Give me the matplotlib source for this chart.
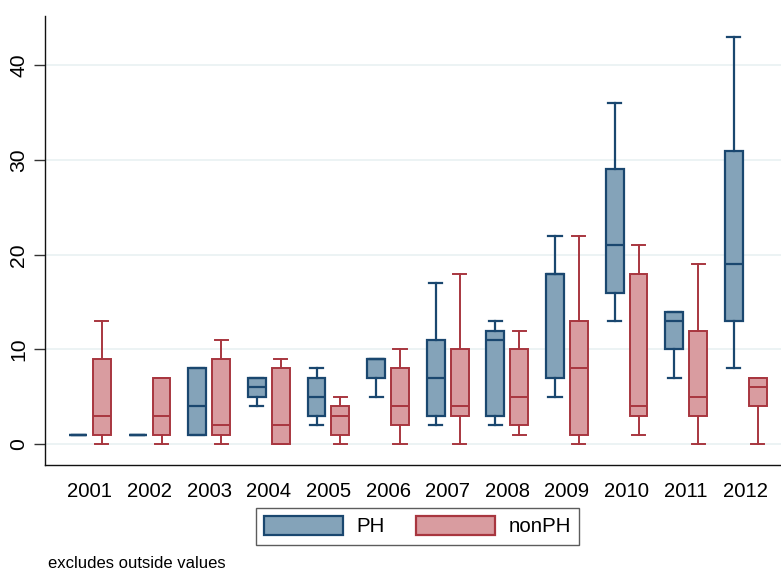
import matplotlib
matplotlib.use("Agg")
import matplotlib.pyplot as plt
from matplotlib.patches import Patch

years = ["2001", "2002", "2003", "2004", "2005", "2006",
         "2007", "2008", "2009", "2010", "2011", "2012"]

# PH group: lower adjacent, q1, median, q3, upper adjacent
ph_lo  = [1, 1, 1, 4, 2, 5, 2, 2, 5, 13, 7, 8]
ph_q1  = [1, 1, 1, 5, 3, 7, 3, 3, 7, 16, 10, 13]
ph_med = [1, 1, 4, 6, 5, 9, 7, 11, 18, 21, 13, 19]
ph_q3  = [1, 1, 8, 7, 7, 9, 11, 12, 18, 29, 14, 31]
ph_hi  = [1, 1, 8, 7, 8, 9, 17, 13, 22, 36, 14, 43]

# nonPH group
np_lo  = [0, 0, 0, 0, 0, 0, 0, 1, 0, 1, 0, 0]
np_q1  = [1, 1, 1, 0, 1, 2, 3, 2, 1, 3, 3, 4]
np_med = [3, 3, 2, 2, 3, 4, 4, 5, 8, 4, 5, 6]
np_q3  = [9, 7, 9, 8, 4, 8, 10, 10, 13, 18, 12, 7]
np_hi  = [13, 7, 11, 9, 5, 10, 18, 12, 22, 21, 19, 7]

yticks = [0, 10, 20, 30, 40]

PH_FILL, PH_EDGE = "#84A3B9", "#1A476F"
NP_FILL, NP_EDGE = "#D99CA0", "#A8363F"

FONT = "Liberation Sans"
plt.rcParams["font.family"] = [FONT, "DejaVu Sans"]

fig = plt.figure(figsize=(7.81, 5.71), dpi=100)
ax = fig.add_axes([0.0576, 0.1856, 0.9424, 0.7864])


def stats(lo, q1, med, q3, hi):
    return [dict(whislo=a, q1=b, med=c, q3=d, whishi=e, fliers=[])
            for a, b, c, d, e in zip(lo, q1, med, q3, hi)]


def draw(st, offset, fill, edge, lw):
    pos = [i + offset for i in range(len(st))]
    ax.bxp(st, positions=pos, widths=0.3, patch_artist=True,
           showfliers=False, capwidths=0.22,
           boxprops=dict(facecolor=fill, edgecolor=edge, linewidth=lw),
           medianprops=dict(color=edge, linewidth=lw),
           whiskerprops=dict(color=edge, linewidth=lw),
           capprops=dict(color=edge, linewidth=lw),
           zorder=3)


for y in yticks:
    ax.axhline(y, color="#EAF2F3", linewidth=1.3, zorder=1)

draw(stats(ph_lo, ph_q1, ph_med, ph_q3, ph_hi), -0.2, PH_FILL, PH_EDGE, 1.6)
draw(stats(np_lo, np_q1, np_med, np_q3, np_hi), 0.2, NP_FILL, NP_EDGE, 1.4)

ax.set_xlim(-0.755, 11.59)
ax.set_ylim(-2.2, 45.2)
ax.set_xticks(range(len(years)))
ax.set_xticklabels(years, fontsize=14.6)
ax.tick_params(axis="x", length=0, pad=12)
ax.set_yticks(yticks)
ax.set_yticklabels([str(v) for v in yticks], fontsize=15.2, rotation=90, va="center")
ax.tick_params(axis="y", length=8, width=1, color="#333333", pad=4)
for s in ["top", "right"]:
    ax.spines[s].set_visible(False)
for s in ["left", "bottom"]:
    ax.spines[s].set_color("#111111")
    ax.spines[s].set_linewidth(1.0)

handles = [Patch(facecolor=PH_FILL, edgecolor=PH_EDGE, linewidth=1.6),
           Patch(facecolor=NP_FILL, edgecolor=NP_EDGE, linewidth=1.6)]
leg = fig.legend(handles, ["PH", "nonPH"], loc="center", bbox_to_anchor=(0.5346, 0.0788),
                 ncol=2, fontsize=14.8, frameon=True, fancybox=False, handlelength=3.85,
                 handleheight=1.05, handletextpad=0.65, columnspacing=1.5,
                 borderpad=0.4, borderaxespad=0)
leg.get_frame().set_edgecolor("#333333")
leg.get_frame().set_linewidth(1.0)

fig.text(0.0615, 0.006, "excludes outside values", fontsize=12, ha="left", va="baseline")

fig.savefig("out.png", dpi=100)
